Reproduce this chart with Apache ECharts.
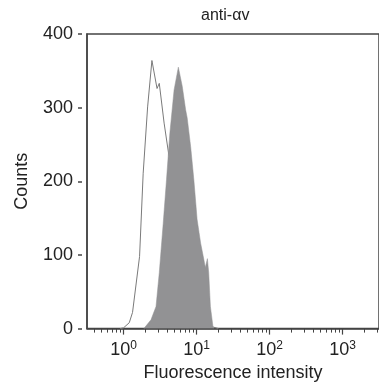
<!DOCTYPE html>
<html>
<head>
<meta charset="utf-8">
<script src="https://cdn.jsdelivr.net/npm/echarts@6/dist/echarts.min.js"></script>
<style>
  html, body { margin: 0; padding: 0; background: #fff; }
  #chart { width: 379px; height: 387px; }
</style>
</head>
<body>
<div id="chart"></div>
<script>
// 直方图数据（荧光强度 / 计数）
const controlIntensity = [0.9, 1.0, 1.2, 1.33, 1.66, 1.86, 2.14, 2.45, 2.88, 3.09, 3.6, 4.2, 5.0, 6.3, 7.9, 10, 12.6, 15.8, 20];
const controlCounts    = [0,   1,   8,   22,  98,  211, 301, 364, 326, 333, 279, 234, 180, 120, 70,  35, 12,   3,    0];

const antiIntensity = [1.9, 2.38, 2.79, 3.09, 3.5, 3.88, 4.31, 4.93, 5.64, 6.38, 7.1, 7.46, 8.32, 9.2, 10.2, 11.4, 12.6, 13.2, 14.1, 14.7, 15.5, 16.8, 17.4];
const antiCounts    = [0,   12,   30,   76,   143, 202,  265,  324,  355,  329,  297, 286,  247,  202, 148,  116,  94,   83,   95,   76,   30,   3,    0];

const majorTicks = [0, 1, 2, 3];
const minorMultipliers = [2, 3, 4, 5, 6, 7, 8, 9];

const xMin = -0.5, xMax = 3.5;

// 转换为 log10 坐标
function toLogPairs(xs, ys) {
    return xs.map((x, i) => [Math.log10(x), ys[i]]);
}

const minorTicks = [];
for (let d = -1; d <= 3; d++) {
    minorMultipliers.forEach(m => {
        const v = d + Math.log10(m);
        if (v > xMin && v < xMax) minorTicks.push(v);
    });
}

const axisColor = '#444';
const textColor = '#222';
const font = 'Liberation Sans, Arial, sans-serif';

const chart = echarts.init(document.getElementById('chart'));

const option = {
    animation: false,
    title: {
        text: 'anti-αv',
        left: 201,
        top: 8,
        padding: 0,
        textStyle: { fontFamily: font, fontSize: 16, fontWeight: 'normal', color: textColor }
    },
    grid: {
        left: 87, right: -3, top: 34, bottom: 58,
        show: true, borderColor: axisColor, borderWidth: 1.5
    },
    xAxis: [
        {
            type: 'value', min: xMin, max: xMax,
            name: 'Fluorescence intensity', nameLocation: 'middle', nameGap: 33,
            nameTextStyle: { fontFamily: font, fontSize: 18, color: textColor },
            axisLine: { show: true, onZero: false, lineStyle: { color: axisColor, width: 1.5 } },
            axisTick: { show: true, length: 6, customValues: majorTicks, lineStyle: { color: axisColor, width: 1.2 } },
            axisLabel: {
                customValues: majorTicks, margin: 11,
                formatter: v => '{b|10}{s|' + v + '}',
                rich: {
                    b: { fontFamily: font, fontSize: 18, color: textColor },
                    s: { fontFamily: font, fontSize: 12, color: textColor, verticalAlign: 'bottom', padding: [0, 0, 9, 0] }
                }
            },
            splitLine: { show: false }
        },
        {
            type: 'value', min: xMin, max: xMax, position: 'bottom',
            axisLine: { show: false, onZero: false },
            axisTick: { show: true, length: 4, customValues: minorTicks, lineStyle: { color: axisColor, width: 1 } },
            axisLabel: { show: false },
            splitLine: { show: false }
        }
    ],
    yAxis: [
        {
            type: 'value', min: 0, max: 400, interval: 100,
            name: 'Counts', nameLocation: 'middle', nameGap: 56,
            nameTextStyle: { fontFamily: font, fontSize: 18, color: textColor },
            axisLine: { show: true, onZero: false, lineStyle: { color: axisColor, width: 1.5 } },
            axisTick: { show: false },
            axisLabel: { fontFamily: font, fontSize: 18, color: textColor, margin: 14 },
            splitLine: { show: false }
        },
        {
            type: 'value', min: 0, max: 400, interval: 100, position: 'left', offset: 5,
            axisLine: { show: false, onZero: false },
            axisTick: { show: true, length: 4, lineStyle: { color: axisColor, width: 1.5 } },
            axisLabel: { show: false },
            splitLine: { show: false }
        }
    ],
    series: [
        {
            name: 'control', type: 'line', z: 2,
            data: toLogPairs(controlIntensity, controlCounts),
            showSymbol: false,
            lineStyle: { color: '#7a7a7a', width: 1 }
        },
        {
            name: 'anti-αv', type: 'line', z: 3,
            data: toLogPairs(antiIntensity, antiCounts),
            showSymbol: false,
            lineStyle: { color: '#929294', width: 0.5 },
            areaStyle: { color: '#929294', opacity: 1 }
        }
    ]
};

chart.setOption(option);
</script>
</body>
</html>
